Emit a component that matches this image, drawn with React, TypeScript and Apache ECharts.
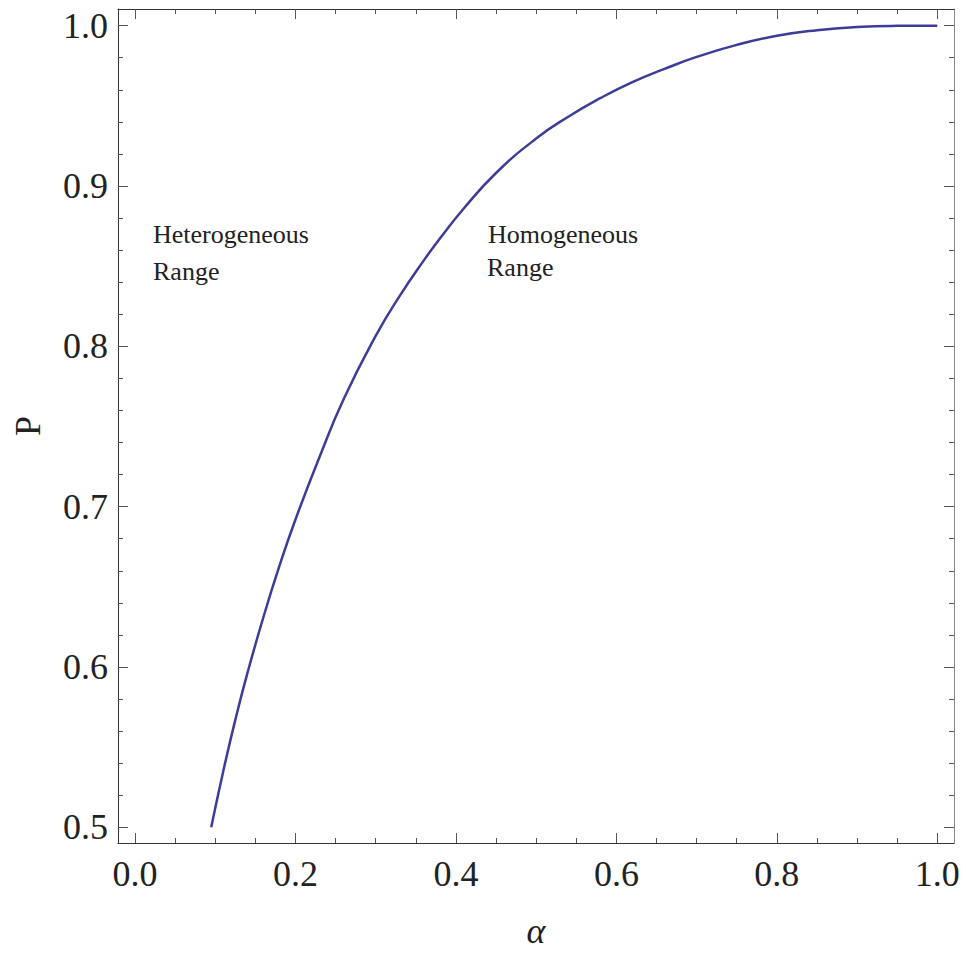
import React, { useEffect, useRef } from "react";
import * as echarts from "echarts";

const ALPHA = [0.095, 0.11, 0.125, 0.14, 0.16, 0.18, 0.2, 0.23, 0.26, 0.3, 0.33, 0.36, 0.38, 0.41, 0.45, 0.5, 0.54, 0.58, 0.62, 0.66, 0.7, 0.75, 0.8, 0.85, 0.9, 0.95, 1.0];
const P = [0.5, 0.535, 0.567, 0.596, 0.631, 0.663, 0.692, 0.731, 0.767, 0.8065, 0.8315, 0.8536, 0.8672, 0.8861, 0.9081, 0.9296, 0.9432, 0.9548, 0.9648, 0.973, 0.9805, 0.988, 0.9937, 0.9972, 0.9992, 0.9999, 1.0];

const X_MAJOR = [0, 0.2, 0.4, 0.6, 0.8, 1.0];
const X_MINOR = [0.05, 0.1, 0.15, 0.25, 0.3, 0.35, 0.45, 0.5, 0.55, 0.65, 0.7, 0.75, 0.85, 0.9, 0.95];
const Y_MAJOR = [0.5, 0.6, 0.7, 0.8, 0.9, 1.0];
const Y_MINOR = [0.52, 0.54, 0.56, 0.58, 0.62, 0.64, 0.66, 0.68, 0.72, 0.74, 0.76, 0.78, 0.82, 0.84, 0.86, 0.88, 0.92, 0.94, 0.96, 0.98];

const X_RANGE = [-0.0212, 1.0208];
const Y_RANGE = [0.4902, 1.0104];

const ANNOTATIONS = [
  { text: "Heterogeneous", x: 153, y: 221 },
  { text: "Range", x: 153, y: 258 },
  { text: "Homogeneous", x: 488, y: 221 },
  { text: "Range", x: 487, y: 254 },
];

const FONT = "'Liberation Serif', 'Times New Roman', serif";

export default function App() {
  const ref = useRef<HTMLDivElement>(null);
  useEffect(() => {
    if (!ref.current) return;
    const chart = echarts.init(ref.current, null, { renderer: "svg" });
    const lineDark = { color: "#333", width: 1 };
    const tickStyle = { color: "#555", width: 1 };
    const mkX = (pos: string, major: boolean, showLine: boolean, extra: any = {}) => ({
      type: "value",
      position: pos,
      min: X_RANGE[0],
      max: X_RANGE[1],
      axisLine: { show: showLine, onZero: false, lineStyle: lineDark },
      axisTick: { show: true, inside: true, length: major ? 10 : 5, customValues: major ? X_MAJOR : X_MINOR, lineStyle: tickStyle },
      axisLabel: { show: false },
      splitLine: { show: false },
      ...extra,
    });
    const mkY = (pos: string, major: boolean, showLine: boolean, lineColor: string, extra: any = {}) => ({
      type: "value",
      position: pos,
      min: Y_RANGE[0],
      max: Y_RANGE[1],
      axisLine: { show: showLine, onZero: false, lineStyle: { color: lineColor, width: 1 } },
      axisTick: { show: true, inside: true, length: major ? 10 : 5, customValues: major ? Y_MAJOR : Y_MINOR, lineStyle: tickStyle },
      axisLabel: { show: false },
      splitLine: { show: false },
      ...extra,
    });
    chart.setOption({
      animation: false,
      backgroundColor: "#fff",
      grid: { left: 118, right: 12, top: 9, bottom: 110, containLabel: false },
      xAxis: [
        mkX("bottom", true, true, {
          name: "α",
          nameLocation: "middle",
          nameGap: 70,
          nameTextStyle: { fontFamily: FONT, fontSize: 36, fontStyle: "italic", color: "#222" },
          axisLabel: {
            show: true,
            customValues: X_MAJOR,
            formatter: (v: number) => v.toFixed(1),
            fontFamily: FONT,
            fontSize: 36,
            color: "#222",
            margin: 13,
          },
        }),
        mkX("bottom", false, false),
        mkX("top", true, true),
        mkX("top", false, false),
      ],
      yAxis: [
        mkY("left", true, true, "#333", {
          name: "P",
          nameLocation: "middle",
          nameGap: 72,
          nameTextStyle: { fontFamily: FONT, fontSize: 36, color: "#222" },
          axisLabel: {
            show: true,
            customValues: Y_MAJOR,
            formatter: (v: number) => v.toFixed(1),
            fontFamily: FONT,
            fontSize: 36,
            color: "#222",
            margin: 10,
          },
        }),
        mkY("left", false, false, "#333"),
        mkY("right", true, true, "#888"),
        mkY("right", false, false, "#888"),
      ],
      graphic: ANNOTATIONS.map((a) => ({
        type: "text",
        left: a.x,
        top: a.y,
        style: { text: a.text, fontFamily: FONT, fontSize: 26, fill: "#222" },
      })),
      series: [
        {
          type: "line",
          xAxisIndex: 0,
          yAxisIndex: 0,
          showSymbol: false,
          smooth: 0.5,
          data: ALPHA.map((a, i) => [a, P[i]]),
          lineStyle: { color: "#3d3d99", width: 2.5 },
        },
      ],
    });
    return () => chart.dispose();
  }, []);
  return <div ref={ref} style={{ position: "fixed", left: 0, top: 0, width: 966, height: 954 }} />;
}
